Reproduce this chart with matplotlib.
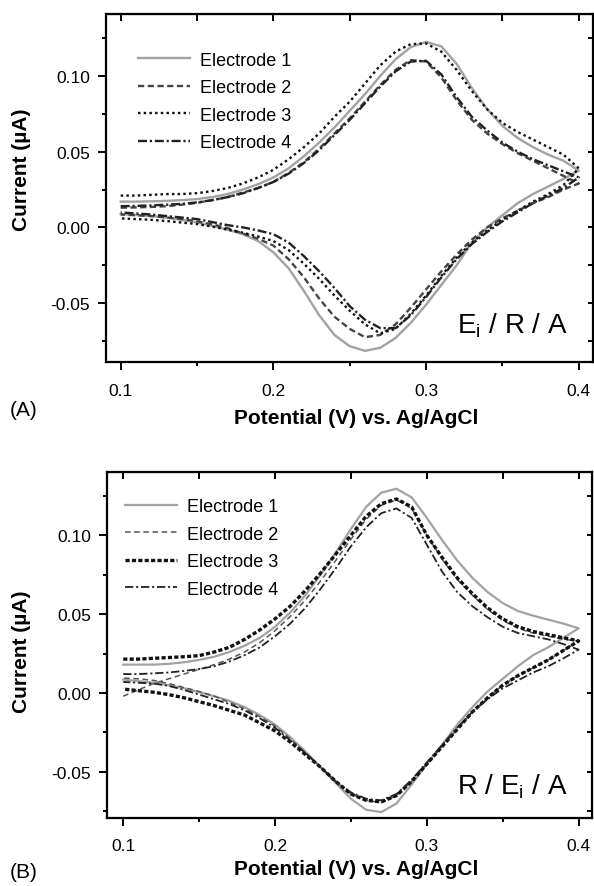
import matplotlib
matplotlib.use("Agg")
from matplotlib import pyplot as plt
from matplotlib.ticker import MultipleLocator, FormatStrFormatter

plt.rcParams['font.family'] = ['Liberation Sans', 'DejaVu Sans']
plt.rcParams['mathtext.fontset'] = 'custom'
plt.rcParams['mathtext.rm'] = 'Liberation Sans'
plt.rcParams['lines.scale_dashes'] = False

# potential grid (V) shared by all scans, forward branch read 0.10 -> 0.40
potential = [0.10, 0.11, 0.12, 0.13, 0.14, 0.15, 0.16, 0.17, 0.18, 0.19, 0.20,
             0.21, 0.22, 0.23, 0.24, 0.25, 0.26, 0.27, 0.28, 0.29, 0.30,
             0.31, 0.32, 0.33, 0.34, 0.35, 0.36, 0.37, 0.38, 0.39, 0.40]
labels = ["Electrode 1", "Electrode 2", "Electrode 3", "Electrode 4"]

# panel A  (Ei / R / A) -- current in uA, forward (upper) and reverse (lower) branch
a_e1_fwd = [0.0170, 0.0170, 0.0172, 0.0175, 0.0180, 0.0187, 0.0200, 0.0220, 0.0250, 0.0285, 0.0330,
            0.0390, 0.0470, 0.0560, 0.0660, 0.0770, 0.0880, 0.1000, 0.1110, 0.1190, 0.1225,
            0.1195, 0.1080, 0.0920, 0.0780, 0.0670, 0.0590, 0.0530, 0.0480, 0.0440, 0.0375]
a_e1_rev = [0.0088, 0.0082, 0.0075, 0.0065, 0.0050, 0.0033, 0.0010, -0.0015, -0.0045, -0.0090, -0.0165,
            -0.0270, -0.0420, -0.0580, -0.0710, -0.0785, -0.0815, -0.0795, -0.0730, -0.0630, -0.0510,
            -0.0380, -0.0250, -0.0100, 0.0000, 0.0080, 0.0160, 0.0220, 0.0270, 0.0320, 0.0375]
a_e2_fwd = [0.0130, 0.0132, 0.0135, 0.0140, 0.0150, 0.0162, 0.0180, 0.0200, 0.0230, 0.0260, 0.0300,
            0.0360, 0.0430, 0.0520, 0.0620, 0.0720, 0.0830, 0.0940, 0.1040, 0.1105, 0.1095,
            0.0990, 0.0840, 0.0710, 0.0620, 0.0550, 0.0490, 0.0440, 0.0390, 0.0340, 0.0290]
a_e2_rev = [0.0085, 0.0080, 0.0075, 0.0065, 0.0055, 0.0040, 0.0020, -0.0005, -0.0040, -0.0075, -0.0120,
            -0.0210, -0.0330, -0.0470, -0.0590, -0.0670, -0.0725, -0.0710, -0.0640, -0.0530, -0.0410,
            -0.0290, -0.0180, -0.0080, 0.0000, 0.0060, 0.0110, 0.0160, 0.0200, 0.0250, 0.0290]
a_e3_fwd = [0.0210, 0.0210, 0.0215, 0.0220, 0.0220, 0.0226, 0.0240, 0.0260, 0.0290, 0.0330, 0.0380,
            0.0450, 0.0530, 0.0620, 0.0730, 0.0830, 0.0950, 0.1070, 0.1160, 0.1210, 0.1215,
            0.1160, 0.1040, 0.0900, 0.0780, 0.0690, 0.0630, 0.0580, 0.0530, 0.0480, 0.0390]
a_e3_rev = [0.0059, 0.0055, 0.0050, 0.0042, 0.0032, 0.0022, 0.0005, -0.0015, -0.0035, -0.0060, -0.0090,
            -0.0150, -0.0240, -0.0340, -0.0450, -0.0550, -0.0640, -0.0700, -0.0670, -0.0570, -0.0450,
            -0.0320, -0.0200, -0.0100, -0.0020, 0.0050, 0.0110, 0.0170, 0.0220, 0.0280, 0.0390]
a_e4_fwd = [0.0140, 0.0142, 0.0145, 0.0150, 0.0155, 0.0165, 0.0180, 0.0200, 0.0225, 0.0260, 0.0300,
            0.0355, 0.0425, 0.0510, 0.0610, 0.0710, 0.0820, 0.0930, 0.1030, 0.1095, 0.1100,
            0.1010, 0.0860, 0.0730, 0.0640, 0.0560, 0.0500, 0.0450, 0.0410, 0.0370, 0.0330]
a_e4_rev = [0.0099, 0.0092, 0.0085, 0.0075, 0.0065, 0.0055, 0.0035, 0.0015, 0.0000, -0.0020, -0.0045,
            -0.0100, -0.0190, -0.0290, -0.0400, -0.0520, -0.0610, -0.0665, -0.0665, -0.0580, -0.0460,
            -0.0330, -0.0210, -0.0110, -0.0030, 0.0040, 0.0100, 0.0160, 0.0210, 0.0260, 0.0330]

# panel B  (R / Ei / A)
b_e1_fwd = [0.0180, 0.0180, 0.0180, 0.0185, 0.0195, 0.0210, 0.0230, 0.0260, 0.0300, 0.0350, 0.0420,
            0.0510, 0.0620, 0.0750, 0.0890, 0.1040, 0.1180, 0.1270, 0.1295, 0.1240, 0.1110,
            0.0970, 0.0840, 0.0730, 0.0640, 0.0570, 0.0520, 0.0490, 0.0465, 0.0440, 0.0410]
b_e1_rev = [0.0085, 0.0075, 0.0065, 0.0050, 0.0030, 0.0005, -0.0020, -0.0050, -0.0090, -0.0140, -0.0200,
            -0.0280, -0.0370, -0.0470, -0.0570, -0.0670, -0.0740, -0.0755, -0.0700, -0.0580, -0.0450,
            -0.0330, -0.0200, -0.0090, 0.0010, 0.0090, 0.0170, 0.0240, 0.0290, 0.0350, 0.0410]
b_e2_fwd = [-0.0020, 0.0020, 0.0060, 0.0090, 0.0120, 0.0150, 0.0180, 0.0215, 0.0260, 0.0320, 0.0395,
            0.0485, 0.0590, 0.0710, 0.0840, 0.0975, 0.1100, 0.1190, 0.1225, 0.1170, 0.1000,
            0.0850, 0.0720, 0.0620, 0.0530, 0.0460, 0.0410, 0.0380, 0.0360, 0.0340, 0.0330]
b_e2_rev = [0.0095, 0.0090, 0.0080, 0.0060, 0.0035, 0.0010, -0.0020, -0.0060, -0.0100, -0.0150, -0.0210,
            -0.0290, -0.0380, -0.0470, -0.0560, -0.0640, -0.0680, -0.0695, -0.0650, -0.0560, -0.0450,
            -0.0340, -0.0230, -0.0120, -0.0030, 0.0050, 0.0110, 0.0160, 0.0210, 0.0270, 0.0330]
b_e3_fwd = [0.0215, 0.0215, 0.0220, 0.0225, 0.0230, 0.0237, 0.0260, 0.0290, 0.0340, 0.0400, 0.0470,
            0.0550, 0.0650, 0.0760, 0.0880, 0.1000, 0.1120, 0.1200, 0.1230, 0.1180, 0.1000,
            0.0860, 0.0730, 0.0630, 0.0540, 0.0470, 0.0420, 0.0390, 0.0370, 0.0350, 0.0330]
b_e3_rev = [0.0025, 0.0015, 0.0005, -0.0010, -0.0030, -0.0055, -0.0080, -0.0110, -0.0140, -0.0190, -0.0240,
            -0.0310, -0.0390, -0.0470, -0.0560, -0.0640, -0.0680, -0.0690, -0.0650, -0.0560, -0.0450,
            -0.0340, -0.0230, -0.0120, -0.0030, 0.0050, 0.0110, 0.0160, 0.0210, 0.0270, 0.0330]
b_e4_fwd = [0.0120, 0.0120, 0.0125, 0.0130, 0.0140, 0.0152, 0.0170, 0.0200, 0.0240, 0.0290, 0.0360,
            0.0440, 0.0540, 0.0660, 0.0790, 0.0930, 0.1050, 0.1140, 0.1170, 0.1110, 0.0940,
            0.0770, 0.0640, 0.0550, 0.0480, 0.0420, 0.0380, 0.0360, 0.0340, 0.0310, 0.0275]
b_e4_rev = [0.0070, 0.0065, 0.0060, 0.0045, 0.0020, -0.0010, -0.0040, -0.0070, -0.0110, -0.0160, -0.0220,
            -0.0300, -0.0380, -0.0470, -0.0560, -0.0630, -0.0670, -0.0680, -0.0640, -0.0550, -0.0440,
            -0.0330, -0.0220, -0.0120, -0.0040, 0.0030, 0.0080, 0.0130, 0.0170, 0.0220, 0.0275]

scans_a = [(a_e1_fwd, a_e1_rev), (a_e2_fwd, a_e2_rev), (a_e3_fwd, a_e3_rev), (a_e4_fwd, a_e4_rev)]
scans_b = [(b_e1_fwd, b_e1_rev), (b_e2_fwd, b_e2_rev), (b_e3_fwd, b_e3_rev), (b_e4_fwd, b_e4_rev)]

# line styles, dashes in points
styles_a = [dict(color='#a2a2a2', lw=1.7, ls='-'),
            dict(color='#444444', lw=1.7, dashes=(4.5, 2.5)),
            dict(color='#111111', lw=1.7, dashes=(1.8, 2.3)),
            dict(color='#222222', lw=1.7, dashes=(6.5, 2.0, 1.6, 2.0))]
styles_b = [dict(color='#a2a2a2', lw=1.6, ls='-'),
            dict(color='#555555', lw=1.1, dashes=(4.0, 2.6)),
            dict(color='#111111', lw=2.4, dashes=(3.0, 1.6)),
            dict(color='#222222', lw=1.3, dashes=(6.0, 2.0, 1.5, 2.0))]


def draw_panel(ax, scans, styles, xlim, ylim, note, note_pos, leg_anchor):
    for (fwd, rev), style, label in zip(scans, styles, labels):
        e = potential + potential[::-1]
        i = fwd + rev[::-1]
        ax.plot(e, i, label=label, **style)
    ax.set_xlim(*xlim)
    ax.set_ylim(*ylim)
    ax.xaxis.set_major_locator(MultipleLocator(0.1))
    ax.xaxis.set_minor_locator(MultipleLocator(0.05))
    ax.yaxis.set_major_locator(MultipleLocator(0.05))
    ax.yaxis.set_minor_locator(MultipleLocator(0.025))
    ax.xaxis.set_major_formatter(FormatStrFormatter('%.1f'))
    ax.yaxis.set_major_formatter(FormatStrFormatter('%.2f'))
    ax.tick_params(which='major', direction='out', length=5.5, width=1.4, labelsize=12.5, pad=6)
    ax.tick_params(which='minor', direction='out', length=3, width=1.4)
    ax.tick_params(axis='x', which='major', pad=9)
    for sp in ax.spines.values():
        sp.set_linewidth(1.6)
    # inward ticks on the top and right spines
    top = ax.secondary_xaxis('top')
    top.xaxis.set_major_locator(MultipleLocator(0.05))
    top.xaxis.set_minor_locator(MultipleLocator(0.05))
    top.tick_params(which='both', direction='in', length=5, width=1.4, labeltop=False)
    right = ax.secondary_yaxis('right')
    right.yaxis.set_major_locator(MultipleLocator(0.025))
    right.tick_params(which='both', direction='in', length=3.5, width=1.4, labelright=False)
    ax.legend(loc='upper left', bbox_to_anchor=leg_anchor, frameon=False, fontsize=13,
              handlelength=2.9, handletextpad=0.53, labelspacing=0.58, borderpad=0, borderaxespad=0)
    ax.text(note_pos[0], note_pos[1], note, transform=ax.transAxes, fontsize=20,
            ha='left', va='baseline')


fig = plt.figure(figsize=(5.94, 8.87), dpi=100)
ax_a = fig.add_axes([0.1785, 0.5902, 0.8190, 0.3929])
ax_b = fig.add_axes([0.1806, 0.0767, 0.8168, 0.3904])

draw_panel(ax_a, scans_a, styles_a, (0.0904, 0.4090), (-0.0892, 0.1409),
           r'E$_{\mathregular{i}}$ / R / A', (0.722, 0.088), (0.066, 0.892))
draw_panel(ax_b, scans_b, styles_b, (0.0895, 0.4091), (-0.0792, 0.1403),
           r'R / E$_{\mathregular{i}}$ / A', (0.720, 0.072), (0.036, 0.923))

W, H = 594.0, 887.0
fig.text(22 / W, 1 - 170 / H, 'Current (\u00b5A)', rotation=90, fontsize=15,
         fontweight='bold', ha='center', va='center')
fig.text(22 / W, 1 - 652 / H, 'Current (\u00b5A)', rotation=90, fontsize=15,
         fontweight='bold', ha='center', va='center')
fig.text(356 / W, 1 - 418 / H, 'Potential (V) vs. Ag/AgCl', fontsize=15,
         fontweight='bold', ha='center', va='center')
fig.text(356 / W, 1 - 870 / H, 'Potential (V) vs. Ag/AgCl', fontsize=15,
         fontweight='bold', ha='center', va='center')
fig.text(10 / W, 1 - 411 / H, '(A)', fontsize=15, ha='left', va='center')
fig.text(10 / W, 1 - 873 / H, '(B)', fontsize=15, ha='left', va='center')

fig.savefig('out.png', dpi=100)
